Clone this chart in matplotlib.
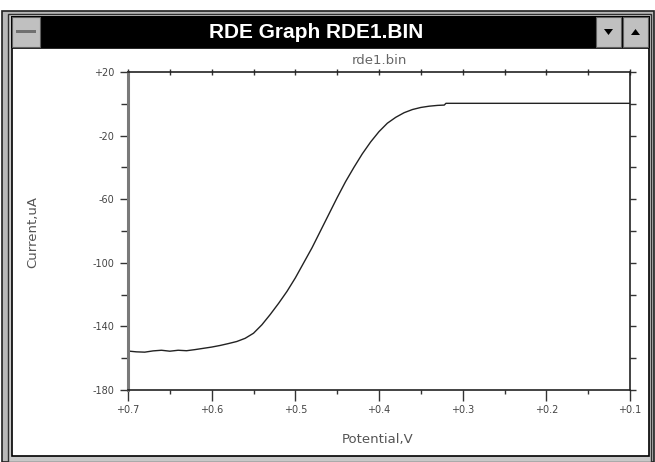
import matplotlib
matplotlib.use("Agg")
import matplotlib.pyplot as plt
from matplotlib.patches import Rectangle, Polygon
from matplotlib.ticker import MultipleLocator, FixedLocator, NullFormatter

# ---- data ----
potential_V = [0.700, 0.690, 0.680, 0.670, 0.660, 0.650, 0.640, 0.630, 0.620, 0.610,
               0.600, 0.590, 0.580, 0.570, 0.560, 0.550, 0.540, 0.530, 0.520, 0.510,
               0.500, 0.490, 0.480, 0.470, 0.460, 0.450, 0.440, 0.430, 0.420, 0.410,
               0.400, 0.390, 0.380, 0.370, 0.360, 0.350, 0.340, 0.330, 0.322, 0.320,
               0.300, 0.250, 0.200, 0.150, 0.100]
current_uA = [-155.5, -156.0, -156.2, -155.4, -155.0, -155.6, -155.0, -155.3, -154.6, -153.8,
              -153.0, -152.0, -150.8, -149.5, -147.5, -144.3, -139.0, -132.5, -125.5, -118.0,
              -109.5, -100.0, -90.5, -80.0, -69.5, -59.0, -49.0, -40.0, -31.5, -24.0,
              -17.5, -12.2, -8.5, -5.6, -3.6, -2.3, -1.5, -1.0, -0.8, 0.3,
              0.3, 0.3, 0.3, 0.3, 0.3]
x_ticks = [0.7, 0.6, 0.5, 0.4, 0.3, 0.2, 0.1]
x_tick_labels = ["+0.7", "+0.6", "+0.5", "+0.4", "+0.3", "+0.2", "+0.1"]
y_ticks = [20, -20, -60, -100, -140, -180]
y_tick_labels = ["+20", "-20", "-60", "-100", "-140", "-180"]
window_title = "RDE Graph RDE1.BIN"
plot_title = "rde1.bin"
x_label = "Potential,V"
y_label = "Current,uA"

W, H = 655, 462
fig = plt.figure(figsize=(W / 100, H / 100), dpi=100)
fig.patch.set_facecolor("white")


def prect(x0, y0, x1, y1, **kw):
    r = Rectangle((x0 / W, 1 - y1 / H), (x1 - x0) / W, (y1 - y0) / H,
                  transform=fig.transFigure, zorder=-5, **kw)
    fig.patches.append(r)
    return r


def ppoly(pts, **kw):
    p = Polygon([(x / W, 1 - y / H) for x, y in pts], closed=True,
                transform=fig.transFigure, zorder=-4, **kw)
    fig.patches.append(p)


# window frame
prect(2, 11, 654, 462, facecolor="#b8b8b8", edgecolor="#202020", lw=1.2)
prect(8, 14, 651, 462, facecolor="#c8c8c8", edgecolor="#303030", lw=1.0)
# title bar
prect(11, 16, 650, 48, facecolor="black", edgecolor="black", lw=0)
# client area
prect(12, 48, 649, 456, facecolor="white", edgecolor="black", lw=1.2)
# system button
prect(12, 17, 40, 47, facecolor="#c0c0c0", edgecolor="#606060", lw=0.8)
prect(16, 30, 36, 33, facecolor="#707070", edgecolor="none")
# down / up buttons
prect(596, 17, 621, 47, facecolor="#c0c0c0", edgecolor="#606060", lw=0.8)
prect(623, 17, 648, 47, facecolor="#c0c0c0", edgecolor="#606060", lw=0.8)
ppoly([(604, 29), (613, 29), (608.5, 35)], facecolor="black", edgecolor="none")
ppoly([(631, 35), (640, 35), (635.5, 29)], facecolor="black", edgecolor="none")

fig.text(316 / W, 1 - 32 / H, window_title, color="white", fontsize=15,
         fontweight="bold", family=["Liberation Sans", "DejaVu Sans"],
         ha="center", va="center")

# ---- axes ----
left, right, top, bottom = 128, 630, 72, 390
ax = fig.add_axes([left / W, 1 - bottom / H, (right - left) / W, (bottom - top) / H])
ax.set_zorder(5)
ax.patch.set_alpha(0)
ax.plot(potential_V, current_uA, color="#222222", lw=1.0)
ax.set_xlim(0.7, 0.1)
ax.set_ylim(-180, 20)

tick_col = "#444444"
font_small = dict(family=["DejaVu Sans"], fontsize=7, color=tick_col)

ax.xaxis.set_major_locator(FixedLocator(x_ticks))
ax.set_xticklabels(x_tick_labels, **font_small)
ax.xaxis.set_minor_locator(MultipleLocator(0.05))
ax.yaxis.set_major_locator(FixedLocator(y_ticks))
ax.set_yticklabels(y_tick_labels, **font_small)
ax.yaxis.set_minor_locator(MultipleLocator(20))

ax.tick_params(axis="x", which="major", direction="out", length=8, width=1,
               color="#333333", pad=3)
ax.tick_params(axis="x", which="minor", direction="out", length=3, width=1,
               color="#333333")
ax.tick_params(axis="y", which="major", direction="out", length=6, width=1,
               color="#333333", pad=4)
ax.tick_params(axis="y", which="minor", direction="out", length=5, width=1,
               color="#333333")

# top and right tick marks (short, no labels)
secx = ax.secondary_xaxis("top")
secx.xaxis.set_major_locator(MultipleLocator(0.05))
secx.xaxis.set_major_formatter(NullFormatter())
secx.tick_params(direction="inout", length=5, width=1, color="#333333")
secx.spines["top"].set_visible(False)
secy = ax.secondary_yaxis("right")
secy.yaxis.set_major_locator(MultipleLocator(20))
secy.yaxis.set_major_formatter(NullFormatter())
secy.tick_params(direction="out", length=4, width=1, color="#333333")
secy.spines["right"].set_visible(False)

for s in ["top", "bottom", "right"]:
    ax.spines[s].set_color("#222222")
    ax.spines[s].set_linewidth(1.2)
ax.spines["left"].set_color("#7a7a7a")
ax.spines["left"].set_linewidth(2.2)

fig.text(379 / W, 1 - 61 / H, plot_title, ha="center", va="center",
         family=["DejaVu Sans"], fontsize=9.5, color="#666666")
fig.text(378 / W, 1 - 440 / H, x_label, ha="center", va="center",
         family=["DejaVu Sans"], fontsize=9.5, color="#555555")
fig.text(33 / W, 1 - 232 / H, y_label, ha="center", va="center", rotation=90,
         family=["DejaVu Sans"], fontsize=9.5, color="#555555")

fig.savefig("out.png", dpi=100, facecolor=fig.get_facecolor())
